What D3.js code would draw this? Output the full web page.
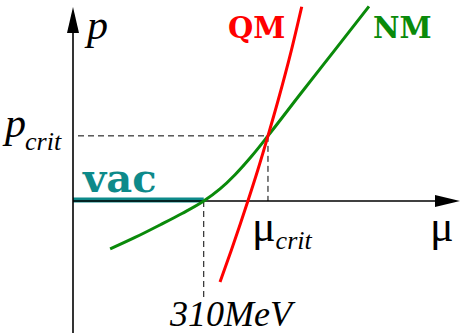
<!DOCTYPE html>
<html>
<head>
<meta charset="utf-8">
<script src="https://cdn.jsdelivr.net/npm/d3@7"></script>
<style>
  html, body { margin: 0; padding: 0; background: #fff; }
  svg { display: block; }
</style>
</head>
<body>
<svg id="chart" width="461" height="333"></svg>
<script>
// Pressure p(μ) of the nuclear-matter (NM) and quark-matter (QM) phases, schematic units.
// μ in MeV, p in arbitrary units.
const nmMu = [88, 147, 206, 258.5, 310, 348.6, 384.2, 424.4, 462.3, 538.2, 621.2, 701.8];
const nmP  = [-24.6, -18.7, -12.3, -6.4, 0, 6.2, 13.5, 23.2, 33.4, 54.6, 77.5, 99.8];

const qmMu = [348.6, 375.6, 414.7, 438.2, 462.3, 486.6, 517.9, 542.3];
const qmP  = [-41.5, -25.1, 0, 15.9, 33.4, 51.8, 77.4, 99.6];

// Vacuum branch: p = 0 up to the nucleon threshold
const vacMu = [0, 310];
const vacP  = [0, 0];

const muVac  = 310;   // MeV, onset of nuclear matter
const muCrit = 462.3; // crossing of NM and QM
const pCrit  = 33.4;

const colors = { nm: "#0a8a0a", qm: "#ff0000", vac: "#0d8a8a", axis: "#000" };

const svg = d3.select("#chart");

const x = d3.scaleLinear().domain([0, 920]).range([73, 461]);
const y = d3.scaleLinear().domain([0, 100]).range([201, 6]);

const zip = (a, b) => a.map((v, i) => [v, b[i]]);
const line = d3.line().x(d => x(d[0])).y(d => y(d[1])).curve(d3.curveMonotoneX);

// dashed guide lines
const dash = svg.append("g")
  .attr("stroke", "#000").attr("stroke-width", 1).attr("stroke-dasharray", "6,4").attr("fill", "none");
dash.append("line")
  .attr("x1", x(0) + 5).attr("x2", x(muCrit))
  .attr("y1", y(pCrit)).attr("y2", y(pCrit));
dash.append("line")
  .attr("x1", x(muCrit)).attr("x2", x(muCrit))
  .attr("y1", y(pCrit)).attr("y2", y(0));
dash.append("line")
  .attr("x1", x(muVac)).attr("x2", x(muVac))
  .attr("y1", y(0)).attr("y2", y(-49.5));

// vacuum branch
svg.append("path")
  .datum(zip(vacMu, vacP))
  .attr("d", d3.line().x(d => x(d[0])).y(d => y(d[1]) - 1))
  .attr("fill", "none").attr("stroke", colors.vac).attr("stroke-width", 5);

// axes with arrowheads
const axes = svg.append("g");
const [x0, x1] = x.range();
const [yb, yt] = [333, 7];
axes.append("line").attr("x1", x0).attr("x2", x1 - 20).attr("y1", y(0)).attr("y2", y(0))
  .attr("stroke", colors.axis).attr("stroke-width", 1.6);
axes.append("path")
  .attr("d", `M${x1 - 1},${y(0)} L${x1 - 26},${y(0) - 6} L${x1 - 26},${y(0) + 6} Z`)
  .attr("fill", colors.axis);
axes.append("line").attr("x1", x0).attr("x2", x0).attr("y1", yb).attr("y2", yt + 20)
  .attr("stroke", colors.axis).attr("stroke-width", 1.6);
axes.append("path")
  .attr("d", `M${x0},${yt} L${x0 - 6},${yt + 26} L${x0 + 6},${yt + 26} Z`)
  .attr("fill", colors.axis);

// phase curves
svg.append("path")
  .datum(zip(nmMu, nmP))
  .attr("d", line)
  .attr("fill", "none").attr("stroke", colors.nm).attr("stroke-width", 3);
svg.append("path")
  .datum(zip(qmMu, qmP))
  .attr("d", line)
  .attr("fill", "none").attr("stroke", colors.qm).attr("stroke-width", 3);

// labels
const serif = "'Liberation Serif', 'Times New Roman', serif";
const slab = "'DejaVu Serif', serif";

svg.append("text").attr("x", 87).attr("y", 39)
  .attr("font-family", serif).attr("font-style", "italic").attr("font-size", 42).text("p");

const pc = svg.append("text").attr("x", 5).attr("y", 137)
  .attr("font-family", serif).attr("font-style", "italic").attr("font-size", 42);
pc.append("tspan").text("p");
pc.append("tspan").attr("font-size", 26).attr("dy", 13).attr("dx", -1).text("crit");

const mc = svg.append("text").attr("x", 252).attr("y", 241)
  .attr("font-family", serif).attr("font-size", 44);
mc.append("tspan").text("μ");
mc.append("tspan").attr("font-size", 26).attr("font-style", "italic").attr("dy", 8).text("crit");

svg.append("text").attr("x", 430).attr("y", 241)
  .attr("font-family", serif).attr("font-size", 44).text("μ");

svg.append("text").attr("x", 170).attr("y", 326)
  .attr("font-family", serif).attr("font-style", "italic").attr("font-size", 36).text("310MeV");

svg.append("text").attr("x", 83).attr("y", 192)
  .attr("font-family", slab).attr("font-weight", "bold").attr("font-size", 40)
  .attr("fill", colors.vac).text("vac");

svg.append("text").attr("x", 228).attr("y", 38)
  .attr("font-family", slab).attr("font-weight", "bold").attr("font-size", 29)
  .attr("fill", colors.qm).text("QM");

svg.append("text").attr("x", 373).attr("y", 38)
  .attr("font-family", slab).attr("font-weight", "bold").attr("font-size", 29)
  .attr("fill", colors.nm).text("NM");
</script>
</body>
</html>
